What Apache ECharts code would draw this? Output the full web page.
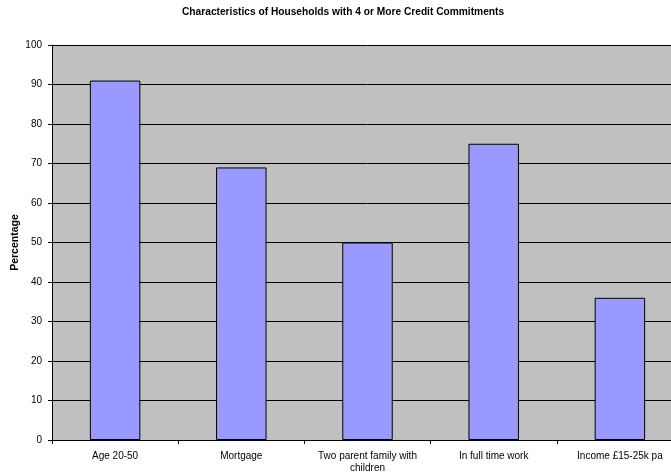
<!DOCTYPE html>
<html>
<head>
<meta charset="utf-8">
<script src="https://cdn.jsdelivr.net/npm/echarts@6/dist/echarts.min.js"></script>
<style>
  html, body { margin: 0; padding: 0; background: #fff; overflow: hidden; width: 671px; height: 474px; }
  /* the plot runs slightly past the right edge of the page */
  #chart { width: 683px; height: 474px; }
</style>
</head>
<body>
<div id="chart"></div>
<script>
// Household characteristics and the share (%) of households with 4+ credit commitments
const categories = ['Age 20-50', 'Mortgage', 'Two parent family with\nchildren', 'In full time work', 'Income £15-25k pa'];
const percentages = [91, 69, 50, 75, 36];
const yTicks = { min: 0, max: 100, interval: 10 };

const font = 'Arial, "Liberation Sans", sans-serif';
const chart = echarts.init(document.getElementById('chart'), null, { renderer: 'canvas' });

chart.setOption({
  animation: false,
  backgroundColor: '#ffffff',
  title: {
    text: 'Characteristics of Households with 4 or More Credit Commitments',
    left: 182,
    top: 7,
    padding: 0,
    textStyle: { fontFamily: font, fontSize: 10.2, fontWeight: 'bold', color: '#000' }
  },
  grid: {
    left: 52, top: 45, right: 0, bottom: 34,
    outerBoundsMode: 'none',
    containLabel: false,
    show: true, backgroundColor: '#c0c0c0', borderWidth: 0
  },
  xAxis: {
    type: 'category',
    data: categories,
    axisLine: { lineStyle: { color: '#000', width: 1 } },
    axisTick: { show: true, alignWithLabel: false, length: 4, lineStyle: { color: '#000' } },
    axisLabel: { fontFamily: font, fontSize: 10, color: '#000', margin: 10, lineHeight: 12, interval: 0 }
  },
  yAxis: {
    type: 'value',
    min: yTicks.min,
    max: yTicks.max,
    interval: yTicks.interval,
    name: 'Percentage',
    nameLocation: 'middle',
    nameGap: 31,
    nameRotate: 90,
    nameMoveOverlap: false,
    nameTextStyle: { fontFamily: font, fontSize: 10.5, fontWeight: 'bold', color: '#000' },
    axisLine: { show: true, lineStyle: { color: '#000', width: 1 } },
    axisTick: { show: true, length: 4, lineStyle: { color: '#000' } },
    axisLabel: { fontFamily: font, fontSize: 10, color: '#000', margin: 10 },
    splitLine: { show: true, lineStyle: { color: '#000', width: 1 } }
  },
  series: [{
    type: 'bar',
    data: percentages,
    barWidth: '40%',
    itemStyle: { color: '#9999ff', borderColor: '#000', borderWidth: 1 }
  }]
});
</script>
</body>
</html>
